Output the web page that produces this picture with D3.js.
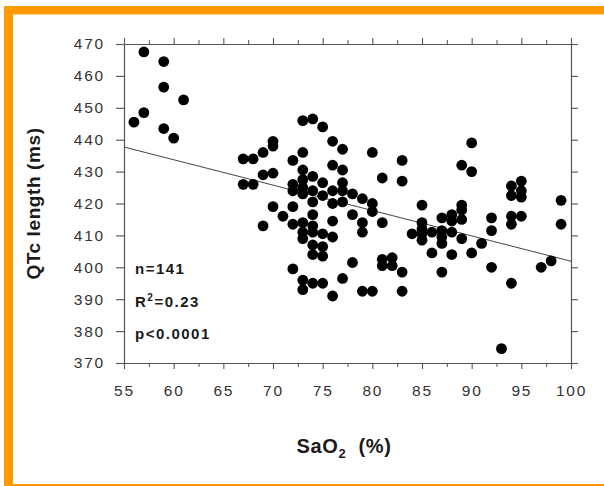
<!DOCTYPE html>
<html>
<head>
<meta charset="utf-8">
<script src="https://cdn.jsdelivr.net/npm/d3@7"></script>
<style>
  body { margin: 0; background: #fff; }
  svg { display: block; }
  .tick-label { font-family: "Liberation Sans", Arial, sans-serif; font-size: 15.5px; fill: #333; letter-spacing: 1.8px; }
  .axis-title { font-family: "Liberation Sans", Arial, sans-serif; font-weight: bold; fill: #1a1a1a; }
  .stat { font-family: "Liberation Sans", Arial, sans-serif; font-weight: bold; font-size: 15px; fill: #1a1a1a; letter-spacing: 1.5px; }
</style>
</head>
<body>
<svg id="chart" width="604" height="486"></svg>
<script>
// SaO2 (%) readings, grouped by column
const sao2 = [
  56, 57, 57, 59, 59, 59, 60, 61,
  67, 67, 68, 68,
  69, 69, 69,
  70, 70, 70, 70,
  71,
  72, 72, 72, 72, 72, 72,
  73, 73, 73, 73, 73, 73, 73, 73, 73, 73, 73,
  74, 74, 74, 74, 74, 74, 74, 74, 74, 74,
  75, 75, 75, 75, 75, 75, 75,
  76, 76, 76, 76, 76, 76, 76,
  77, 77, 77, 77, 77, 77,
  78, 78, 78,
  79, 79, 79, 79,
  80, 80, 80, 80,
  81, 81, 81, 81,
  82, 82,
  83, 83, 83, 83,
  84,
  85, 85, 85, 85, 85,
  86, 86,
  87, 87, 87, 87, 87,
  88, 88, 88, 88,
  89, 89, 89, 89, 89,
  90, 90, 90,
  91,
  92, 92, 92,
  93,
  94, 94, 94, 94, 94,
  95, 95, 95, 95,
  97, 98, 99, 99
];
// QTc length (ms), same order
const qtc = [
  445.5, 467.5, 448.5, 464.5, 456.5, 443.5, 440.5, 452.5,
  434, 426, 434, 426,
  436, 429, 413,
  439.5, 438, 429.5, 419,
  416,
  433.5, 426, 424, 419, 413.5, 399.5,
  446, 436, 430.5, 427.5, 425, 423, 414, 411, 409, 396, 393,
  446.5, 428.5, 424, 420.5, 416.5, 413, 411, 407, 404, 395,
  444, 426.5, 422.5, 410.5, 406.5, 403.5, 395,
  439.5, 432, 424, 420, 414.5, 409.5, 391,
  437, 430.5, 426.5, 424, 420.5, 396.5,
  423, 416.5, 401.5,
  421.5, 414, 411, 392.5,
  436, 420, 417.5, 392.5,
  428, 414, 402.5, 400.5,
  403, 400.5,
  433.5, 427, 398.5, 392.5,
  410.5,
  419.5, 414, 412, 410.5, 408.5,
  411, 404.5,
  415.5, 411.5, 409.5, 407.5, 398.5,
  416.5, 414.5, 411, 404,
  432, 419.5, 418, 415, 409,
  439, 430, 404.5,
  407.5,
  415.5, 411.5, 400,
  374.5,
  425.5, 422.5, 416, 413.5, 395,
  427, 424, 422, 416,
  400, 402, 421, 413.5
];
// regression line end points [SaO2, QTc]
const fitLine = [[55, 437.7], [100, 401.9]];
const xTicks = [55, 60, 65, 70, 75, 80, 85, 90, 95, 100];
const xMinorTicks = [57.5, 62.5, 67.5, 72.5, 77.5, 82.5, 87.5, 92.5, 97.5];
const yTicks = [370, 380, 390, 400, 410, 420, 430, 440, 450, 460, 470];
const stats = ["n=141", "R\u00b2=0.23", "p<0.0001"];

const svg = d3.select("#chart");

// orange frame
svg.append("rect").attr("x", 4).attr("y", 6).attr("width", 600).attr("height", 480).attr("fill", "#ff9900");
svg.append("rect").attr("x", 13).attr("y", 14.5).attr("width", 591).attr("height", 469.5).attr("fill", "#fff");

const plot = { left: 124, right: 571, top: 44, bottom: 363 };
const x = d3.scaleLinear().domain([55, 100]).range([plot.left, plot.right]);
const y = d3.scaleLinear().domain([370, 470]).range([plot.bottom, plot.top]);

const axisColor = "#555";

function styleAxis(g) {
  g.select(".domain").attr("stroke", axisColor).attr("stroke-width", 1.2);
  g.selectAll(".tick line").attr("stroke", axisColor).attr("stroke-width", 1.1);
  g.selectAll("text").attr("class", "tick-label");
}

// bottom axis with labels
const xAxisG = svg.append("g")
  .attr("transform", "translate(0," + plot.bottom + ")")
  .call(d3.axisBottom(x).tickValues(xTicks).tickSize(6).tickSizeOuter(0).tickPadding(13).tickFormat(d3.format("d")));
styleAxis(xAxisG);
xAxisG.selectAll("text").attr("dy", "0.9em");
svg.append("g")
  .attr("transform", "translate(0," + plot.bottom + ")")
  .call(d3.axisBottom(x).tickValues(xMinorTicks).tickSize(4).tickSizeOuter(0).tickFormat(""))
  .call(g => { g.select(".domain").remove(); g.selectAll("line").attr("stroke", axisColor); });

// top axis, ticks only
const xTopG = svg.append("g")
  .attr("transform", "translate(0," + plot.top + ")")
  .call(d3.axisTop(x).tickValues(xTicks).tickSize(6).tickSizeOuter(0).tickFormat(""));
styleAxis(xTopG);
svg.append("g")
  .attr("transform", "translate(0," + plot.top + ")")
  .call(d3.axisTop(x).tickValues(xMinorTicks).tickSize(4).tickSizeOuter(0).tickFormat(""))
  .call(g => { g.select(".domain").remove(); g.selectAll("line").attr("stroke", axisColor); });

// left axis with labels
const yAxisG = svg.append("g")
  .attr("transform", "translate(" + plot.left + ",0)")
  .call(d3.axisLeft(y).tickValues(yTicks).tickSize(8).tickSizeOuter(0).tickPadding(11).tickFormat(d3.format("d")));
styleAxis(yAxisG);

// right axis, ticks only
const yRightG = svg.append("g")
  .attr("transform", "translate(" + plot.right + ",0)")
  .call(d3.axisRight(y).tickValues(yTicks).tickSize(7).tickSizeOuter(0).tickFormat(""));
styleAxis(yRightG);

// regression line
svg.append("line")
  .attr("x1", x(fitLine[0][0])).attr("y1", y(fitLine[0][1]))
  .attr("x2", x(fitLine[1][0])).attr("y2", y(fitLine[1][1]))
  .attr("stroke", "#444").attr("stroke-width", 1);

// points
const data = sao2.map((s, i) => ({ s: s, q: qtc[i] }));
svg.append("g")
  .selectAll("circle")
  .data(data)
  .enter()
  .append("circle")
  .attr("cx", d => x(d.s))
  .attr("cy", d => y(d.q))
  .attr("r", 5.4)
  .attr("fill", "#000");

// stats text
svg.append("g")
  .selectAll("text")
  .data(stats)
  .enter()
  .append("text")
  .attr("class", "stat")
  .attr("x", 135)
  .attr("y", (d, i) => 274 + i * 32.5)
  .each(function (d) {
    const t = d3.select(this);
    if (d.indexOf("\u00b2") >= 0) {
      t.append("tspan").text("R");
      t.append("tspan").attr("dy", -6).style("font-size", "10px").text("2");
      t.append("tspan").attr("dy", 6).text("=0.23");
    } else {
      t.text(d);
    }
  });

// axis titles
svg.append("text")
  .attr("class", "axis-title")
  .attr("transform", "translate(40," + (plot.top + plot.bottom) / 2 + ") rotate(-90)")
  .attr("text-anchor", "middle")
  .style("font-size", "19px")
  .style("letter-spacing", "0.6px")
  .text("QTc length (ms)");

const xt = svg.append("text")
  .attr("class", "axis-title")
  .attr("x", 344)
  .attr("y", 453)
  .attr("text-anchor", "middle")
  .style("font-size", "20px")
  .style("letter-spacing", "0.6px");
xt.append("tspan").text("SaO");
xt.append("tspan").attr("dy", 5).style("font-size", "13px").text("2");
xt.append("tspan").attr("dy", -5).text("\u00a0\u00a0(%)");
</script>
</body>
</html>
